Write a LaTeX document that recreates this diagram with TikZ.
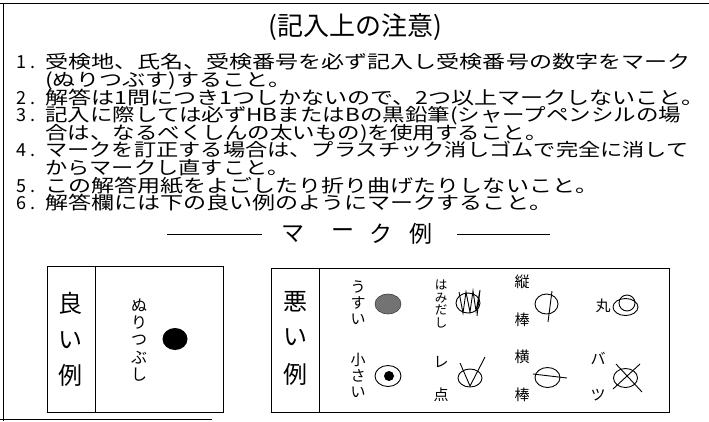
\documentclass[tikz,border=0pt]{standalone}
\usepackage{fontspec}
\newfontfamily\jp{Noto Sans CJK JP}
\newfontfamily\jpw[FakeStretch=1.28]{Noto Sans CJK JP}
\newfontfamily\jpm[FakeStretch=1.25]{Noto Sans CJK JP}
\newfontfamily\jpn[FakeStretch=1.235]{Noto Sans CJK JP}
\begin{document}
\begin{tikzpicture}[x=1pt,y=-1pt,
  frame/.style={line width=0.8pt},
  body/.style={anchor=west,inner sep=0pt,text height=0.88em,text depth=0.12em,font=\jpw\fontsize{18}{18}\selectfont},
  bodym/.style={body,font=\jpm\fontsize{18}{18}\selectfont},
  bodyn/.style={body,font=\jpn\fontsize{18}{18}\selectfont},
  num/.style={anchor=west,inner sep=0pt,text height=0.88em,text depth=0.12em,font=\jp\fontsize{18}{18}\selectfont},
  big/.style={inner sep=0pt,font=\jp\fontsize{24}{24}\selectfont},
  head/.style={inner sep=0pt,font=\jp\fontsize{23}{23}\selectfont},
  vtxt/.style={inner sep=0pt,align=center,font=\jp\fontsize{#1}{#1}\selectfont},
  markline/.style={line width=0.9pt}]
\useasboundingbox (0,0) rectangle (709,421);
% outer frame
\coordinate (o1) at (0,3);
\coordinate (o2) at (709,3);
\coordinate (o3) at (3,3);
\coordinate (o4) at (3,421);
\coordinate (o5) at (0,419);
\coordinate (o6) at (212,419);
\draw[frame] (o1) -- (o2);
\draw[frame] (o3) -- (o4);
\draw[frame] (o5) -- (o6);
% title
\node[inner sep=0pt,font=\jp\fontsize{26}{26}\selectfont] (title) at (355,27) {(記入上の注意)};
% items
\node[num] (n1) at (16,65) {1\hspace{4pt}.};
\node[body] (l1) at (45,65) {受検地、氏名、受検番号を必ず記入し受検番号の数字をマーク};
\node[body] (l1b) at (45,82.6) {(ぬりつぶす)すること。};
\node[num] (n2) at (16,100.2) {2\hspace{4pt}.};
\node[body] (l2) at (45,100.2) {解答は1問につき1つしかないので、2つ以上マークしないこと。};
\node[num] (n3) at (16,117.8) {3\hspace{4pt}.};
\node[bodym] (l3) at (45,117.8) {記入に際しては必ずHBまたはBの黒鉛筆(シャープペンシルの場};
\node[bodym] (l3b) at (45,135.4) {合は、なるべくしんの太いもの)を使用すること。};
\node[num] (n4) at (16,153) {4\hspace{4pt}.};
\node[bodyn] (l4) at (45,153) {マークを訂正する場合は、プラスチック消しゴムで完全に消して};
\node[bodyn] (l4b) at (45,170.6) {からマークし直すこと。};
\node[num] (n5) at (16,188.2) {5\hspace{4pt}.};
\node[body] (l5) at (45,188.2) {この解答用紙をよごしたり折り曲げたりしないこと。};
\node[num] (n6) at (16,205.8) {6\hspace{4pt}.};
\node[body] (l6) at (45,205.8) {解答欄には下の良い例のようにマークすること。};
% heading
\coordinate (h1) at (167,234);
\coordinate (h2) at (262,234);
\coordinate (h3) at (457,234);
\coordinate (h4) at (550,234);
\draw[frame] (h1) -- (h2);
\draw[frame] (h3) -- (h4);
\node[head] (hm) at (293,234) {マ};
\node[head] (hb) at (343,234) {ー};
\node[head] (hk) at (381,234) {ク};
\node[head] (hr) at (421,234) {例};
% good box
\draw[frame] (47,266) rectangle (223,412);
\draw[frame] (95,266) -- (95,412);
\node[big] (g1) at (70,303) {良};
\node[big] (g2) at (70,340) {い};
\node[big] (g3) at (70,375) {例};
\node[vtxt=16] (gt) at (139,340) {ぬ\\[1.2pt]り\\[1.2pt]つ\\[1.2pt]ぶ\\[1.2pt]し};
\fill (175,339) ellipse [x radius=12.5,y radius=11];
% bad box
\draw[frame] (271,268) rectangle (669,412);
\draw[frame] (319,268) -- (319,412);
\node[big] (b1) at (295,302) {悪};
\node[big] (b2) at (295,337) {い};
\node[big] (b3) at (295,374) {例};
% column 1
\node[vtxt=15] (usui) at (358,303) {う\\[1pt]す\\[1pt]い};
\filldraw[fill=black!55,draw=black!75,line width=0.6pt] (388,304) ellipse [x radius=13,y radius=10];
\node[vtxt=15] (chiisai) at (358,375) {小\\[1pt]さ\\[1pt]い};
\draw[markline] (388,376) ellipse [x radius=13,y radius=10.5];
\fill (389,376) circle [radius=5];
% column 2
\node[vtxt=12.5] (hami) at (441,304) {は\\[0.2pt]み\\[0.2pt]だ\\[0.2pt]し};
\draw[markline] (468,303) ellipse [x radius=12,y radius=10];
\draw[markline] (459,292) -- (463,313) -- (466,292) -- (470,312) -- (473,291) -- (476,311) -- (480,290) -- (477,316);
\node[vtxt=15] (re) at (441,362) {レ};
\node[vtxt=15] (ten) at (441,395) {点};
\draw[markline] (470,378) ellipse [x radius=12,y radius=9];
\draw[markline] (460,363) -- (470,386) -- (485,357);
% column 3
\node[vtxt=15] (tate) at (522,282) {縦};
\node[vtxt=15] (bou1) at (522,320) {棒};
\draw[markline] (546.5,304) ellipse [x radius=11.5,y radius=10];
\draw[markline] (552,291) -- (548,322);
\node[vtxt=15] (yoko) at (522,357) {横};
\node[vtxt=15] (bou2) at (522,395) {棒};
\draw[markline] (547.5,377.5) ellipse [x radius=12.5,y radius=10];
\draw[markline] (533,374) -- (567,378);
% column 4
\node[vtxt=15] (maru) at (603,306) {丸};
\draw[markline] (625.5,307) ellipse [x radius=12.5,y radius=8.5];
\draw[markline] (627,303) circle [radius=8];
\node[vtxt=15] (ba) at (598,358) {バ};
\node[vtxt=15] (tsu) at (598,395) {ツ};
\draw[markline] (625.5,378) ellipse [x radius=12,y radius=9.5];
\draw[markline] (616,364) -- (642,392);
\draw[markline] (640,364) -- (613,389);
\end{tikzpicture}
\end{document}
